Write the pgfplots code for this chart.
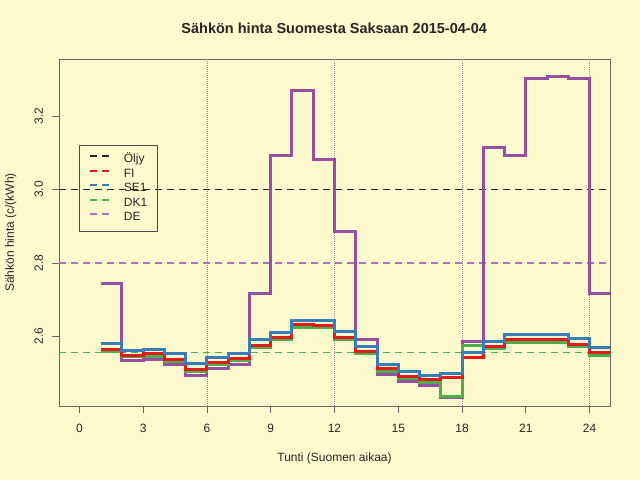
\documentclass[border=0pt]{standalone}
\usepackage{pgfplots}
\pgfplotsset{compat=1.18}
\usepackage{pgfplotstable}
\usepackage{fontspec}
\setmainfont{Liberation Sans}
\definecolor{bg}{HTML}{FFFACD}
\definecolor{cFI}{HTML}{E41A1C}
\definecolor{cSE}{HTML}{377EB8}
\definecolor{cDK}{HTML}{4DAF4A}
\definecolor{cDE}{HTML}{984EA3}
\pgfplotstableread{
h SE1 FI DK1 DE
1 2.581 2.565 2.558 2.743
2 2.561 2.549 2.544 2.533
3 2.565 2.553 2.546 2.538
4 2.552 2.538 2.531 2.524
5 2.525 2.510 2.503 2.494
6 2.543 2.529 2.522 2.513
7 2.554 2.540 2.533 2.524
8 2.591 2.576 2.569 2.717
9 2.611 2.596 2.591 3.094
10 2.644 2.631 2.624 3.270
11 2.644 2.630 2.623 3.081
12 2.614 2.598 2.592 2.887
13 2.572 2.558 2.552 2.592
14 2.524 2.512 2.505 2.497
15 2.505 2.491 2.484 2.476
16 2.494 2.482 2.474 2.467
17 2.499 2.487 2.437 2.432
18 2.556 2.543 2.574 2.585
19 2.587 2.572 2.567 3.114
20 2.605 2.592 2.584 3.094
21 2.605 2.592 2.584 3.304
22 2.604 2.590 2.582 3.308
23 2.593 2.579 2.571 3.302
24 2.570 2.556 2.549 2.717
25 2.570 2.556 2.549 2.717
}\prices
\begin{document}
\begin{tikzpicture}[x=1pt,y=1pt]
\fill[bg] (0,0) rectangle (640,480);
\useasboundingbox (0,0) rectangle (640,480);
\node[anchor=base,font=\fontsize{14.5}{17}\selectfont\bfseries,text=black!85] at (334.2,446.7) {Sähkön hinta Suomesta Saksaan 2015-04-04};
\begin{axis}[
  at={(59pt,74pt)}, anchor=south west,
  width=551pt, height=347pt, scale only axis,
  xmin=-0.96, xmax=24.96, ymin=2.410, ymax=3.356,
  axis background/.style={fill=bg},
  axis line style={draw=black!60, line width=0.8pt},
  tick align=outside, major tick length=7pt,
  tick style={draw=black!60, line width=0.8pt},
  xtick={0,3,...,24}, ytick={2.6,2.8,3.0,3.2},
  xtick pos=bottom, ytick pos=left,
  /pgf/number format/assume math mode=true,
  tick label style={font=\fontsize{12}{14}\selectfont, text=black!85},
  xticklabel style={anchor=base, yshift=-19.3pt},
  yticklabel style={xshift=-9pt, rotate=90, anchor=base, /pgf/number format/.cd, fixed, fixed zerofill, precision=1},
  xlabel={Tunti (Suomen aikaa)},
  ylabel={Sähkön hinta (c/(kWh)},
  every axis x label/.style={at={(axis description cs:0.5,0)}, yshift=-55.7pt, anchor=base, font=\fontsize{12}{14}\selectfont, text=black!85},
  every axis y label/.style={at={(axis description cs:0,0.5)}, xshift=-45pt, rotate=90, anchor=base, font=\fontsize{12}{14}\selectfont, text=black!85},
  legend style={at={(rel axis cs:0.0368,0.7513)}, anchor=north west,
    draw=black!70, line width=0.8pt, fill=none,
    font=\fontsize{12}{14}\selectfont, text=black!85,
    inner xsep=9.7pt, inner ysep=8pt, row sep=2.5pt,
    nodes={inner sep=0pt, text height=9pt, text depth=3pt},
    /tikz/every odd column/.append style={column sep=13.7pt}},
  legend cell align=left,
  legend image code/.code={\draw[#1, line width=1.8pt, dash pattern=on 7pt off 5pt] (0pt,3.5pt) -- (19pt,3.5pt);},
]
% vertical dotted lines
\addplot[forget plot, black!45, line width=0.8pt, dash pattern=on 1pt off 1pt] coordinates {(6,2.410) (6,3.356)};
\addplot[forget plot, black!45, line width=0.8pt, dash pattern=on 1pt off 1pt] coordinates {(12,2.410) (12,3.356)};
\addplot[forget plot, black!45, line width=0.8pt, dash pattern=on 1pt off 1pt] coordinates {(18,2.410) (18,3.356)};
\addplot[forget plot, black!45, line width=0.8pt, dash pattern=on 1pt off 1pt] coordinates {(24,2.410) (24,3.356)};
% horizontal dashed reference lines
\addplot[black!85, line width=1.8pt, dash pattern=on 7pt off 5pt] coordinates {(-0.96,3.0) (24.96,3.0)};
\addlegendentry{Öljy}
\addplot[cFI, line width=1.8pt, dash pattern=on 7pt off 5pt] coordinates {(-0.96,2.556) (24.96,2.556)};
\addlegendentry{FI}
\addplot[cSE, line width=1.8pt, dash pattern=on 7pt off 5pt] coordinates {(-0.96,2.556) (24.96,2.556)};
\addlegendentry{SE1}
\addplot[cDK, line width=1.8pt, dash pattern=on 7pt off 5pt] coordinates {(-0.96,2.556) (24.96,2.556)};
\addlegendentry{DK1}
\addplot[cDE!80, line width=1.8pt, dash pattern=on 7pt off 5pt] coordinates {(-0.96,2.8) (24.96,2.8)};
\addlegendentry{DE}
% step series
\addplot[forget plot, const plot, cDE, line width=3pt] table[x=h, y=DE] {\prices};
\addplot[forget plot, const plot, cDK, line width=3pt] table[x=h, y=DK1] {\prices};
\addplot[forget plot, const plot, cFI, line width=3pt] table[x=h, y=FI] {\prices};
\addplot[forget plot, const plot, cSE, line width=3pt] table[x=h, y=SE1] {\prices};
\end{axis}
\end{tikzpicture}
\end{document}
